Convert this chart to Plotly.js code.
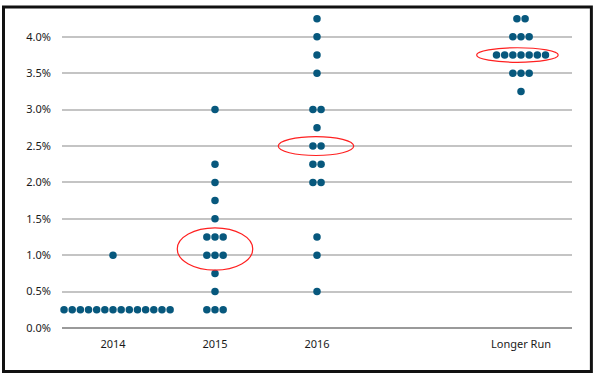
<!DOCTYPE html>
<html>
<head>
<meta charset="utf-8">
<script src="https://cdn.plot.ly/plotly-3.0.1.min.js"></script>
<style>
html,body{margin:0;padding:0;background:#fff;}
#chart{width:600px;height:378px;}
</style>
</head>
<body>
<div id="chart"></div>
<script>
// ---- data: one value per participant's projection (%) ----
const categories = ['2014', '2015', '2016', 'Longer Run'];
const proj2014 = [0.25,0.25,0.25,0.25,0.25,0.25,0.25,0.25,0.25,0.25,0.25,0.25,0.25,0.25,0.25, 1.0];
const proj2015 = [0.25,0.25,0.25, 0.5, 0.75, 1.0,1.0,1.0, 1.25,1.25,1.25, 1.5, 1.75, 2.0, 2.25, 3.0];
const proj2016 = [0.5, 1.0, 1.25, 2.0,2.0, 2.25,2.25, 2.5,2.5, 2.75, 3.0,3.0, 3.5, 3.75, 4.0, 4.25];
const projLongRun = [3.25, 3.5,3.5,3.5, 3.75,3.75,3.75,3.75,3.75,3.75,3.75, 4.0,4.0,4.0, 4.25,4.25];
const yTickVals = [0,0.5,1,1.5,2,2.5,3,3.5,4];
const yTickText = ['0.0%','0.5%','1.0%','1.5%','2.0%','2.5%','3.0%','3.5%','4.0%'];

// ---- layout settings ----
const groups = [proj2014, proj2015, proj2016, projLongRun];
const catPos = [0, 1, 2, 4];
const dotStep = 0.08;
const dotColor = '#07587d';

const xs = [], ys = [];
groups.forEach((vals, gi) => {
  const counts = {};
  vals.forEach(v => { counts[v] = (counts[v] || 0) + 1; });
  Object.keys(counts).forEach(k => {
    const n = counts[k];
    for (let i = 0; i < n; i++) {
      xs.push(catPos[gi] + (i - (n - 1) / 2) * dotStep);
      ys.push(parseFloat(k));
    }
  });
});

function median(a) {
  const s = a.slice().sort((p, q) => p - q);
  const m = s.length / 2;
  return s.length % 2 ? s[Math.floor(m)] : (s[m - 1] + s[m]) / 2;
}

// red ellipses around the medians of 2015, 2016, Longer Run
const ellipseSpec = [
  {g: 1, dx: 0.0, hw: 0.37, hh: 0.29},
  {g: 2, dx: -0.01, hw: 0.37, hh: 0.13},
  {g: 3, dx: -0.035, hw: 0.40, hh: 0.10}
];
const shapes = ellipseSpec.map(e => {
  const cy = median(groups[e.g]) + (e.g === 1 ? -0.04 : 0);
  const cx = catPos[e.g] + e.dx;
  return {type: 'circle', xref: 'x', yref: 'y',
    x0: cx - e.hw, x1: cx + e.hw, y0: cy - e.hh, y1: cy + e.hh,
    line: {color: '#ff2020', width: 1.2}, fillcolor: 'rgba(0,0,0,0)', layer: 'above'};
});
// outer frame
shapes.push({type: 'rect', xref: 'paper', yref: 'paper',
  x0: -0.1147, x1: 1.038, y0: -0.136, y1: 1.003,
  line: {color: '#111111', width: 3}, fillcolor: 'rgba(0,0,0,0)'});

const trace = {
  type: 'scatter', mode: 'markers', x: xs, y: ys,
  marker: {color: dotColor, size: 7.5, symbol: 'circle', line: {width: 0}},
  hoverinfo: 'y', cliponaxis: false
};

const layout = {
  width: 600, height: 378,
  margin: {l: 62, r: 28, t: 8, b: 50},
  paper_bgcolor: '#ffffff', plot_bgcolor: '#ffffff',
  showlegend: false,
  font: {family: 'Noto Sans, Open Sans, sans-serif', size: 11, color: '#1a1a1a'},
  xaxis: {
    range: [-0.5, 4.5], tickvals: catPos, ticktext: categories,
    showgrid: false, zeroline: false, showline: false, ticks: '',
    ticklabelstandoff: 8, fixedrange: true
  },
  yaxis: {
    range: [0, 4.396], tickvals: yTickVals, ticktext: yTickText,
    showgrid: true, gridcolor: '#c4c4c4', gridwidth: 2,
    zeroline: true, zerolinecolor: '#9a9a9a', zerolinewidth: 2,
    showline: false, ticks: '', ticklabelstandoff: 10, fixedrange: true
  },
  shapes: shapes
};

Plotly.newPlot('chart', [trace], layout, {displayModeBar: false, staticPlot: true});
</script>
</body>
</html>
